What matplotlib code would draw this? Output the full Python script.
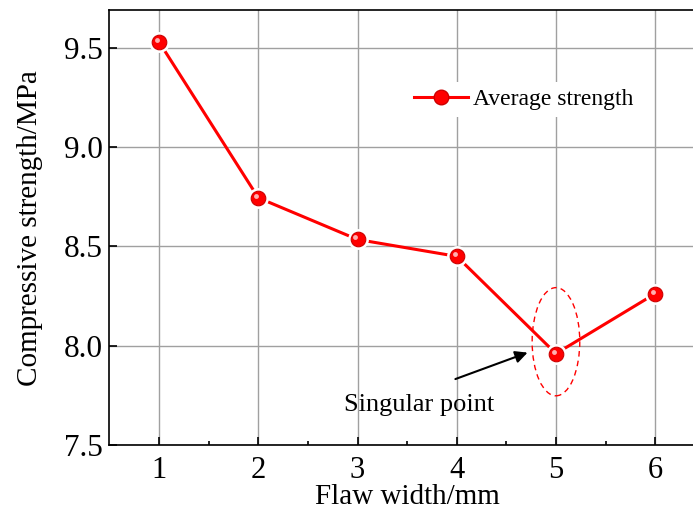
import matplotlib
matplotlib.use('Agg')
import matplotlib.pyplot as plt
from matplotlib.patches import Ellipse
from matplotlib.lines import Line2D
from matplotlib.transforms import offset_copy

plt.rcParams['font.family'] = ['Liberation Serif', 'DejaVu Serif']
plt.rcParams['mathtext.fontset'] = 'stix'

# data
flaw_width = [1, 2, 3, 4, 5, 6]
strength = [9.53, 8.745, 8.535, 8.45, 7.96, 8.262]
y_ticks = [7.5, 8.0, 8.5, 9.0, 9.5]

fig = plt.figure(figsize=(6.93, 5.12), dpi=100)
ax = fig.add_axes([0.158, 0.131, 0.859, 0.849])

# line, then a white ring to leave a gap, then the red balls
ax.plot(flaw_width, strength, color='#ff0000', lw=2.2, zorder=3)
ax.plot(flaw_width, strength, ls='none', marker='o', ms=14,
        color='white', zorder=4)
ax.plot(flaw_width, strength, ls='none', marker='o', ms=10.5,
        mfc='#ff0000', mec='#cc0000', mew=0.8, zorder=5)
hl = offset_copy(ax.transData, fig=fig, x=-1.5, y=1.5, units='points')
ax.plot(flaw_width, strength, ls='none', marker='o', ms=3.5,
        mfc='#ffb0b0', mec='none', transform=hl, zorder=6)

# singular point marker
ax.add_patch(Ellipse((5, 8.02), 0.48, 0.545, fill=False, ec='#ff0000',
                     ls=(0, (4, 3)), lw=1.0, zorder=2))
ax.annotate('', xy=(4.74, 7.97), xytext=(3.96, 7.827),
            arrowprops=dict(arrowstyle='-|>', color='black', lw=1.5,
                            mutation_scale=18))
ax.text(3.62, 7.70, 'Singular point', fontsize=19, ha='center', va='center')

ax.set_xlim(0.5, 6.5)
ax.set_ylim(7.5, 9.69)
ax.set_xticks(flaw_width)
ax.set_xticks([x + 0.5 for x in flaw_width[:-1]], minor=True)
ax.set_yticks(y_ticks)
ax.set_yticklabels(['%.1f' % v for v in y_ticks])
ax.tick_params(which='both', direction='in', width=1.2)
ax.tick_params(axis='x', labelsize=22, pad=8)
ax.tick_params(axis='y', labelsize=22.5, pad=5)
ax.tick_params(which='major', length=6)
ax.tick_params(which='minor', length=3)
ax.tick_params(axis='y', which='minor', left=False)
ax.grid(True, color='#a0a0a0', lw=1.0)
ax.set_axisbelow(True)
for s in ax.spines.values():
    s.set_linewidth(1.2)

ax.set_xlabel('Flaw width/mm', fontsize=21, labelpad=-1)
ax.set_ylabel('Compressive strength/MPa', fontsize=21, labelpad=15)

handle = Line2D([], [], color='#ff0000', lw=2.2, marker='o', ms=10.5,
                mfc='#ff0000', mec='#cc0000')
ax.legend([handle], ['Average strength'], loc='center left',
          bbox_to_anchor=(0.48, 0.795), fontsize=17,
          frameon=True, facecolor='white', edgecolor='none', framealpha=1,
          handlelength=2.3, handletextpad=0.2, borderpad=0.3)

fig.savefig('out.png', dpi=100)
